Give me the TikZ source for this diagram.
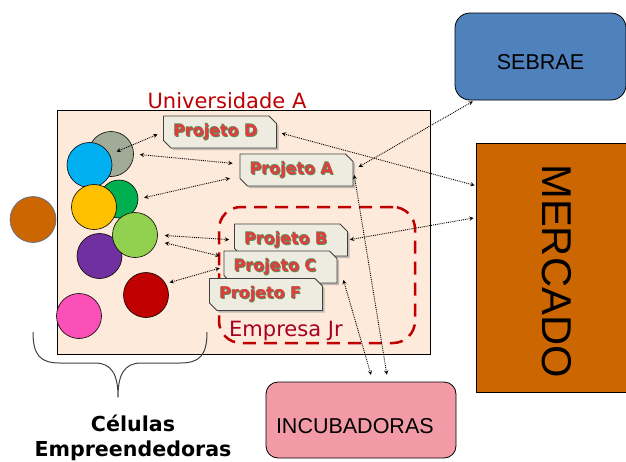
\documentclass[tikz,border=0pt]{standalone}
\usepackage{fontspec}
\setmainfont{Liberation Sans}
\newfontfamily\vfont{DejaVu Sans}
\usetikzlibrary{shapes.misc,shadows}
\definecolor{pred}{HTML}{E23C3C}
\definecolor{pgreen}{HTML}{5E8C5A}
\definecolor{pgray}{HTML}{EEECE1}
\definecolor{univfill}{HTML}{FDEADA}
\definecolor{ured}{HTML}{C00000}
\definecolor{ejred}{HTML}{A50021}
\definecolor{sebblue}{HTML}{4F81BD}
\definecolor{mercorange}{HTML}{CC6600}
\definecolor{incpink}{HTML}{F29BA7}
\newcommand\projtxt[1]{\makebox[0pt][l]{\hspace{0.8pt}\raisebox{-0.8pt}{\textcolor{pgreen}{#1}}}%
  \makebox[0pt][l]{\hspace{-0.6pt}\raisebox{0.6pt}{\textcolor{pgreen}{#1}}}\textcolor{pred}{#1}}
\begin{document}
\begin{tikzpicture}[x=1pt,y=-1pt,line join=round,
  ball/.style={circle,draw=black,line width=0.6pt,inner sep=0pt,minimum size=45pt},
  proj/.style={chamfered rectangle,chamfered rectangle corners={north east,south west},
    chamfered rectangle xsep=4pt,draw=black!75,line width=0.8pt,fill=pgray,
    drop shadow={shadow xshift=2pt,shadow yshift=-2pt,fill=black!40,opacity=.6},
    text width=93pt,align=left,inner xsep=6pt,inner ysep=0pt,minimum height=32pt,
    font=\vfont\bfseries\fontsize{16}{18}\selectfont},
  ext/.style={draw=black,line width=0.8pt,font=\fontsize{21.5}{24}\selectfont,text depth=0pt},
  link/.style={<->,>=stealth,densely dotted,line width=0.9pt}]
\useasboundingbox (0,0) rectangle (626,461);
% universidade
\node[draw=black,line width=0.8pt,fill=univfill,minimum width=373pt,minimum height=244pt] (univ) at (243.5,232) {};
\node[anchor=base,text=ured,font=\vfont\fontsize{21}{24}\selectfont] (univlab) at (227,108) {Universidade A};
\node[draw=ured,line width=2.5pt,dash pattern=on 13pt off 8pt,rounded corners=22pt,minimum width=196pt,minimum height=136pt] (ejr) at (317,275) {};
\node[anchor=base west,text=ejred,font=\vfont\fontsize{21}{24}\selectfont,inner sep=0pt] (ejrlab) at (229,336) {Empresa Jr};
% celulas
\node[ball,fill={rgb,255:red,161;green,172;blue,152}] (cgray) at (111,154) {};
\node[ball,fill={rgb,255:red,0;green,176;blue,240}] (cblue) at (89.5,165) {};
\node[ball,fill={rgb,255:red,0;green,176;blue,80},minimum size=38pt] (cdgreen) at (119,199) {};
\node[ball,fill={rgb,255:red,255;green,192;blue,0}] (cyellow) at (94,207) {};
\node[ball,fill={rgb,255:red,112;green,48;blue,160}] (cpurple) at (99.5,256) {};
\node[ball,fill={rgb,255:red,146;green,208;blue,80}] (clgreen) at (135,235) {};
\node[ball,fill={rgb,255:red,192;green,0;blue,0}] (cred) at (146,295) {};
\node[ball,fill={rgb,255:red,250;green,80;blue,184}] (cpink) at (79,316) {};
\node[ball,fill=mercorange,draw={rgb,255:red,74;green,111;blue,165},minimum size=46pt] (corange) at (33,219.5) {};
% projetos
\node[proj] (pD) at (220,132) {\projtxt{Projeto D}};
\node[proj] (pA) at (296.5,170) {\projtxt{Projeto A}};
\node[proj] (pB) at (291,240) {\projtxt{Projeto B}};
\node[proj] (pC) at (280.5,267) {\projtxt{Projeto C}};
\node[proj] (pF) at (266,294.5) {\projtxt{Projeto F}};
% parceiros
\node[ext,fill=sebblue,rounded corners=15pt,minimum width=171pt,minimum height=87pt,text height=25.4pt] (sebrae) at (540.5,56.5) {SEBRAE};
\node[ext,fill=mercorange,minimum width=150pt,minimum height=249pt] (merc) at (551,267.5) {};
\node[rotate=-90,font=\fontsize{41.7}{44}\selectfont] (merclab) at (557,271) {MERCADO};
\node[ext,fill=incpink,rounded corners=12pt,text width=170pt,align=left,inner xsep=10pt,minimum height=76pt,text height=27.5pt] (incub) at (361,420) {INCUBADORAS};
% chave
\draw[black!75,line width=1pt] (33,332) .. controls (33,355) and (40,363) .. (60,363) -- (95,363)
  .. controls (112,363) and (118,375) .. (118,397) .. controls (118,375) and (124,363) .. (141,363)
  -- (180,363) .. controls (200,363) and (207,355) .. (207,332);
\node[align=center,font=\vfont\bfseries\fontsize{20.6}{25}\selectfont] (cel) at (133,437.5) {Células\\Empreendedoras};
% ligacoes
\draw[link,shorten <=6pt,shorten >=6pt] (cgray.center) -- (pD.west);
\draw[link,shorten <=6pt,shorten >=7pt] (cgray.east) -- ([yshift=6pt]pA.west);
\draw[link,shorten <=6pt,shorten >=10pt] (cdgreen.east) -- ([yshift=-6pt]pA.west);
\draw[link,shorten <=7pt,shorten >=5pt] (clgreen.east) -- (pB.west);
\draw[link,shorten <=8pt] (clgreen.-15) -- ([shift={(-4pt,11pt)}]pC.west);
\draw[link,shorten <=4pt,shorten >=4pt] (cred.30) -- (pC.west);
\draw[link,shorten <=5pt,shorten >=1pt] (pD.east) -- ([yshift=-43pt]merc.north west);
\draw[link,shorten <=6pt,shorten >=2pt] (pA.east) -- ([xshift=20pt]sebrae.south west);
\draw[link,shorten <=2pt,shorten >=2pt] (pB.east) -- ([yshift=-75pt]merc.north west);
\draw[link,shorten >=7pt] ([shift={(6pt,-13pt)}]pC.east) -- ([xshift=12pt]incub.north);
\draw[link,shorten <=5pt,shorten >=7pt] (pA.east) -- ([xshift=27pt]incub.north);
\end{tikzpicture}
\end{document}
